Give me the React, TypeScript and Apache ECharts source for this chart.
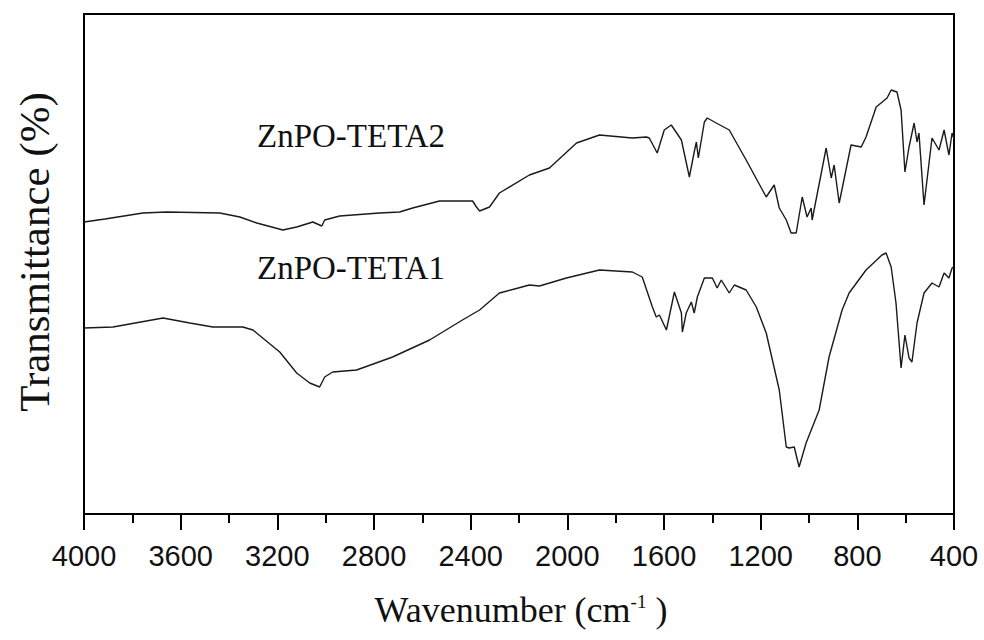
import React, { useEffect, useRef } from "react";
import * as echarts from "echarts";

// Wavenumber (cm-1) and transmittance (arbitrary, offset)
const wnTeta2 = [4000, 3913, 3756, 3657, 3438, 3355, 3285, 3177, 3120, 3053, 3016, 3004, 2942, 2777, 2694, 2640, 2529, 2392, 2376, 2363, 2322, 2281, 2157, 2074, 1962, 1867, 1731, 1673, 1661, 1628, 1599, 1570, 1528, 1495, 1475, 1466, 1458, 1433, 1421, 1384, 1330, 1260, 1177, 1144, 1123, 1094, 1074, 1053, 1028, 1008, 991, 987, 929, 908, 896, 875, 826, 784, 764, 722, 677, 660, 636, 619, 603, 586, 565, 553, 545, 524, 491, 462, 441, 421, 408, 400];
const tTeta2 = [58.4, 59.0, 60.2, 60.4, 60.2, 59.4, 58.2, 56.8, 57.4, 58.4, 57.6, 58.8, 59.6, 60.2, 60.4, 61.2, 62.6, 62.6, 61.4, 60.6, 61.4, 64.2, 67.8, 69.2, 74.2, 75.8, 75.2, 75.4, 75.2, 72.2, 76.8, 77.8, 74.8, 67.4, 72.4, 74.4, 71.2, 78.4, 79.2, 78.2, 76.8, 70.8, 63.4, 65.8, 61.2, 58.8, 56.2, 56.2, 63.4, 59.4, 61.2, 58.8, 73.2, 67.2, 69.8, 62.2, 73.8, 73.4, 75.4, 81.4, 83.2, 84.8, 84.4, 80.8, 68.4, 73.4, 78.2, 74.4, 76.2, 61.8, 75.2, 72.8, 76.8, 71.8, 76.2, 75.0];

const wnTeta1 = [4000, 3880, 3673, 3562, 3467, 3343, 3301, 3190, 3120, 3066, 3025, 3004, 2971, 2872, 2723, 2570, 2434, 2363, 2281, 2157, 2115, 2004, 1867, 1731, 1690, 1648, 1632, 1619, 1590, 1557, 1528, 1524, 1508, 1487, 1475, 1462, 1433, 1400, 1380, 1363, 1330, 1309, 1260, 1218, 1177, 1123, 1094, 1082, 1061, 1041, 1012, 958, 917, 863, 834, 764, 698, 681, 660, 640, 619, 603, 586, 574, 553, 524, 491, 462, 441, 421, 408, 400];
const tTeta1 = [37.2, 37.4, 39.2, 38.2, 37.4, 37.4, 36.8, 32.4, 28.2, 26.2, 25.4, 27.4, 28.4, 28.8, 31.4, 34.8, 38.8, 40.8, 44.2, 45.8, 45.6, 47.2, 48.8, 48.4, 47.4, 41.4, 39.4, 39.8, 36.8, 44.4, 40.2, 36.4, 40.2, 42.4, 40.2, 43.4, 47.2, 47.2, 45.2, 46.8, 44.2, 45.8, 44.8, 41.4, 36.2, 24.8, 13.4, 13.2, 13.4, 9.4, 14.2, 20.8, 31.4, 40.8, 44.2, 48.8, 51.8, 52.2, 49.4, 42.2, 29.2, 35.8, 31.2, 30.4, 38.2, 44.2, 46.2, 45.4, 48.2, 47.2, 49.2, 49.5];

const seriesNames = ["ZnPO-TETA2", "ZnPO-TETA1"];
const xTickMin = 400;
const xTickMax = 4000;
const xTickStep = 400;

export default function App() {
  const ref = useRef<HTMLDivElement>(null);
  useEffect(() => {
    if (!ref.current) return;
    const chart = echarts.init(ref.current, undefined, { renderer: "svg" });
    const lineStyle = { color: "#1a1a1a", width: 1.4 };
    chart.setOption({
      animation: false,
      backgroundColor: "#ffffff",
      grid: {
        left: 84,
        right: 30,
        top: 14,
        bottom: 126,
        show: true,
        borderColor: "#000",
        borderWidth: 2,
        backgroundColor: "transparent",
      },
      xAxis: {
        type: "value",
        inverse: true,
        min: xTickMin,
        max: xTickMax,
        interval: xTickStep,
        axisLine: { show: true, lineStyle: { color: "#000", width: 2 } },
        axisTick: { show: true, inside: false, length: 16, lineStyle: { color: "#000", width: 2 } },
        minorTick: { show: true, splitNumber: 2, length: 9, lineStyle: { color: "#000", width: 2 } },
        splitLine: { show: false },
        minorSplitLine: { show: false },
        axisLabel: {
          color: "#111",
          fontSize: 29,
          fontFamily: "Liberation Sans, Arial, sans-serif",
          margin: 27,
          formatter: (v: number) => String(v),
        },
      },
      yAxis: {
        type: "value",
        min: 0,
        max: 100,
        show: false,
      },
      series: [
        {
          name: seriesNames[0],
          type: "line",
          data: wnTeta2.map((w, i) => [w, tTeta2[i]]),
          showSymbol: false,
          symbol: "none",
          lineStyle,
        },
        {
          name: seriesNames[1],
          type: "line",
          data: wnTeta1.map((w, i) => [w, tTeta1[i]]),
          showSymbol: false,
          symbol: "none",
          lineStyle,
        },
      ],
      graphic: [
        {
          type: "text",
          x: 351,
          y: 136,
          style: {
            text: seriesNames[0],
            fill: "#111",
            font: '33px "Liberation Serif", "Times New Roman", serif',
            textAlign: "center",
            textVerticalAlign: "middle",
          },
        },
        {
          type: "text",
          x: 351,
          y: 268,
          style: {
            text: seriesNames[1],
            fill: "#111",
            font: '33px "Liberation Serif", "Times New Roman", serif',
            textAlign: "center",
            textVerticalAlign: "middle",
          },
        },
        {
          type: "text",
          x: 34,
          y: 252,
          rotation: Math.PI / 2,
          style: {
            text: "Transmittance (%)",
            fill: "#111",
            font: '43px "Liberation Serif", "Times New Roman", serif',
            textAlign: "center",
            textVerticalAlign: "middle",
          },
        },
        {
          type: "text",
          x: 521,
          y: 610,
          style: {
            text: "{a|Wavenumber (cm}{b|-1}{a| )}",
            fill: "#111",
            textAlign: "center",
            textVerticalAlign: "middle",
            rich: {
              a: {
                fontSize: 36,
                fontFamily: '"Liberation Serif", "Times New Roman", serif',
                fill: "#111",
                verticalAlign: "bottom",
              },
              b: {
                fontSize: 19,
                fontFamily: '"Liberation Serif", "Times New Roman", serif',
                fill: "#111",
                verticalAlign: "top",
              },
            },
          },
        },
      ],
    });
    return () => chart.dispose();
  }, []);
  return (
    <div
      ref={ref}
      style={{ position: "absolute", left: 0, top: 0, width: 984, height: 640, background: "#fff" }}
    />
  );
}
